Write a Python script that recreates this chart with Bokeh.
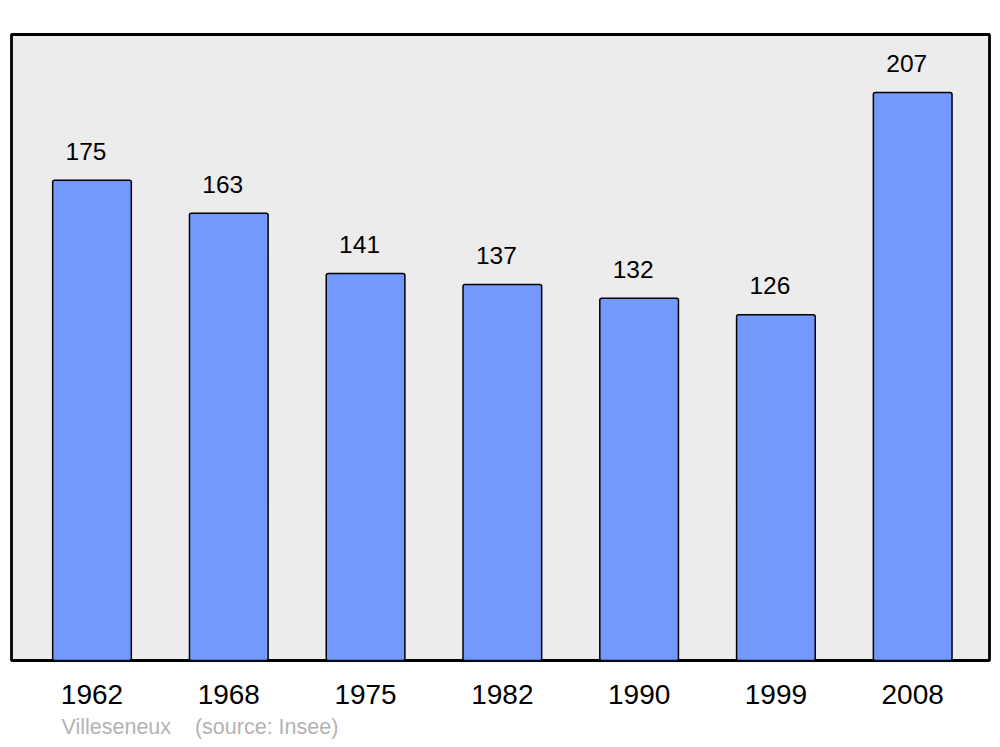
from bokeh.plotting import figure
from bokeh.models import Range1d, FixedTicker, Title, ColumnDataSource
from bokeh.core.properties import value
from bokeh.embed import file_html
from bokeh.resources import INLINE

years = ["1962", "1968", "1975", "1982", "1990", "1999", "2008"]
population = [175, 163, 141, 137, 132, 126, 207]
caption = "Villeseneux\u00a0\u00a0\u00a0\u00a0(source: Insee)"

xs = list(range(len(years)))
src = ColumnDataSource(dict(x=xs, top=population, lab=[str(v) for v in population]))

p = figure(width=1000, height=747, output_backend="svg", toolbar_location=None,
           x_range=Range1d(-0.5885, 6.5615), y_range=Range1d(0, 228.1),
           min_border_left=11, min_border_right=11, min_border_top=34, min_border_bottom=87)
p.background_fill_color = "#ececec"
p.border_fill_color = "white"
p.outline_line_color = "black"
p.outline_line_width = 2.8
p.grid.visible = False
p.yaxis.visible = False

p.vbar(x="x", top="top", bottom=0, width=0.575, source=src,
       fill_color="#7399ff", line_color="black", line_width=1.5, border_radius=2)

p.text(x="x", y="top", text="lab", source=src, x_offset=-6, y_offset=-29,
       text_align="center", text_baseline="alphabetic",
       text_font=value("Liberation Sans"), text_font_size="24.5px", text_color="black")

ax = p.xaxis[0]
ax.ticker = FixedTicker(ticks=xs)
ax.major_label_overrides = {i: y for i, y in zip(xs, years)}
ax.axis_line_color = None
ax.major_tick_line_color = None
ax.minor_tick_line_color = None
ax.major_label_text_font = "Liberation Sans"
ax.major_label_text_font_size = "28px"
ax.major_label_text_color = "black"
ax.major_label_standoff = 18

p.add_layout(Title(text=caption, align="left", offset=50, text_font="Liberation Sans",
                   text_font_size="21.5px", text_color="#b3b3b3", text_font_style="normal",
                   standoff=13), "below")

open("out.html", "w").write(file_html(p, INLINE))
